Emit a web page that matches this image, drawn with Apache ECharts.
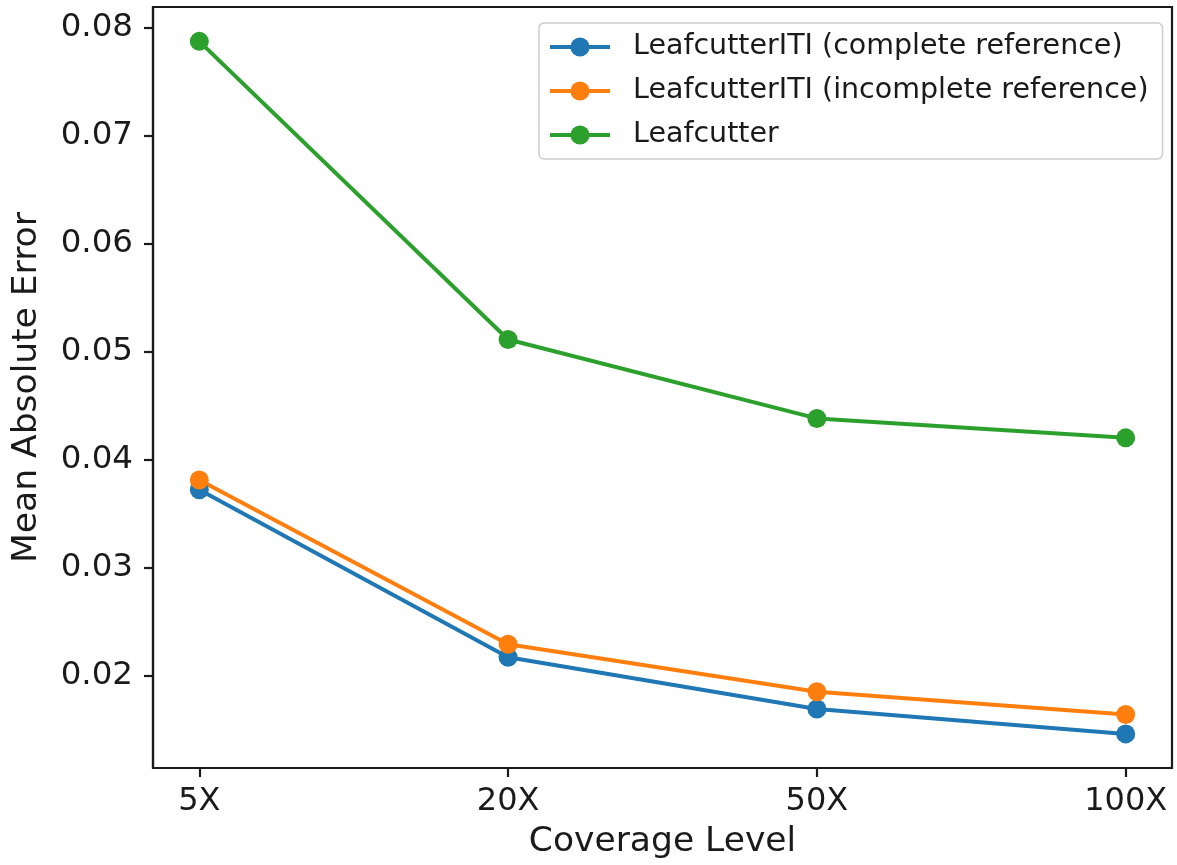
<!DOCTYPE html>
<html>
<head>
<meta charset="utf-8">
<script src="https://cdn.jsdelivr.net/npm/echarts@6/dist/echarts.min.js"></script>
<style>
  html, body { margin: 0; padding: 0; background: #fff; }
  #chart { width: 1177px; height: 865px; }
</style>
</head>
<body>
<div id="chart"></div>
<script>
// Coverage levels on the x axis
const categories = ['5X', '20X', '50X', '100X'];

// Mean absolute error per method
const itiComplete = [0.0372, 0.0217, 0.0169, 0.0146];
const itiIncomplete = [0.0381, 0.0229, 0.0185, 0.0164];
const leafcutter = [0.0787, 0.0511, 0.0438, 0.0420];

// Y tick values
const yTicks = [0.02, 0.03, 0.04, 0.05, 0.06, 0.07, 0.08];

const seriesNames = [
  'LeafcutterITI (complete reference)',
  'LeafcutterITI (incomplete reference)',
  'Leafcutter'
];
const seriesValues = [itiComplete, itiIncomplete, leafcutter];
const colors = ['#1f77b4', '#ff7f0e', '#2ca02c'];

const FONT = 'DejaVu Sans';
const INK = '#1a1a1a';
const xIdx = categories.map((c, i) => i);

const chart = echarts.init(document.getElementById('chart'), null, { renderer: 'canvas' });

chart.setOption({
  animation: false,
  backgroundColor: '#ffffff',
  color: colors,
  grid: {
    left: 153, right: 5, top: 7, bottom: 97,
    show: true, borderColor: INK, borderWidth: 2.2, backgroundColor: 'transparent'
  },
  legend: {
    orient: 'vertical',
    left: 539,
    top: 23,
    itemWidth: 60,
    itemHeight: 24,
    itemGap: 14,
    padding: [9, 14, 9, 9],
    backgroundColor: '#ffffff',
    borderColor: '#cccccc',
    borderWidth: 1.5,
    borderRadius: 5,
    lineStyle: { width: 4 },
    textStyle: {
      fontFamily: FONT, fontSize: 28.5, color: INK,
      lineHeight: 30, padding: [0, 0, 0, 18]
    },
    data: seriesNames
  },
  xAxis: {
    type: 'value',
    min: -0.15,
    max: 3.15,
    name: 'Coverage Level',
    nameLocation: 'middle',
    nameGap: 57,
    nameTextStyle: { fontFamily: FONT, fontSize: 34.5, color: INK },
    splitLine: { show: false },
    axisLine: { show: true, onZero: false, lineStyle: { color: INK, width: 2.2 } },
    axisTick: {
      show: true, length: 9, lineStyle: { color: INK, width: 2.2 },
      customValues: xIdx
    },
    axisLabel: {
      fontFamily: FONT, fontSize: 32, color: INK, margin: 18,
      customValues: xIdx,
      formatter: v => categories[Math.round(v)]
    }
  },
  yAxis: {
    type: 'value',
    min: 0.011444,
    max: 0.08188,
    name: 'Mean Absolute Error',
    nameLocation: 'middle',
    nameGap: 108,
    nameTextStyle: { fontFamily: FONT, fontSize: 34.5, color: INK },
    splitLine: { show: false },
    axisLine: { show: true, onZero: false, lineStyle: { color: INK, width: 2.2 } },
    axisTick: {
      show: true, length: 9, lineStyle: { color: INK, width: 2.2 },
      customValues: yTicks
    },
    axisLabel: {
      fontFamily: FONT, fontSize: 32.5, color: INK, margin: 20,
      customValues: yTicks,
      formatter: v => v.toFixed(2)
    }
  },
  series: seriesNames.map((name, s) => ({
    name: name,
    type: 'line',
    data: xIdx.map(i => [i, seriesValues[s][i]]),
    symbol: 'circle',
    symbolSize: 19,
    lineStyle: { width: 4, color: colors[s] },
    itemStyle: { color: colors[s] },
    emphasis: { disabled: true }
  }))
});
</script>
</body>
</html>
